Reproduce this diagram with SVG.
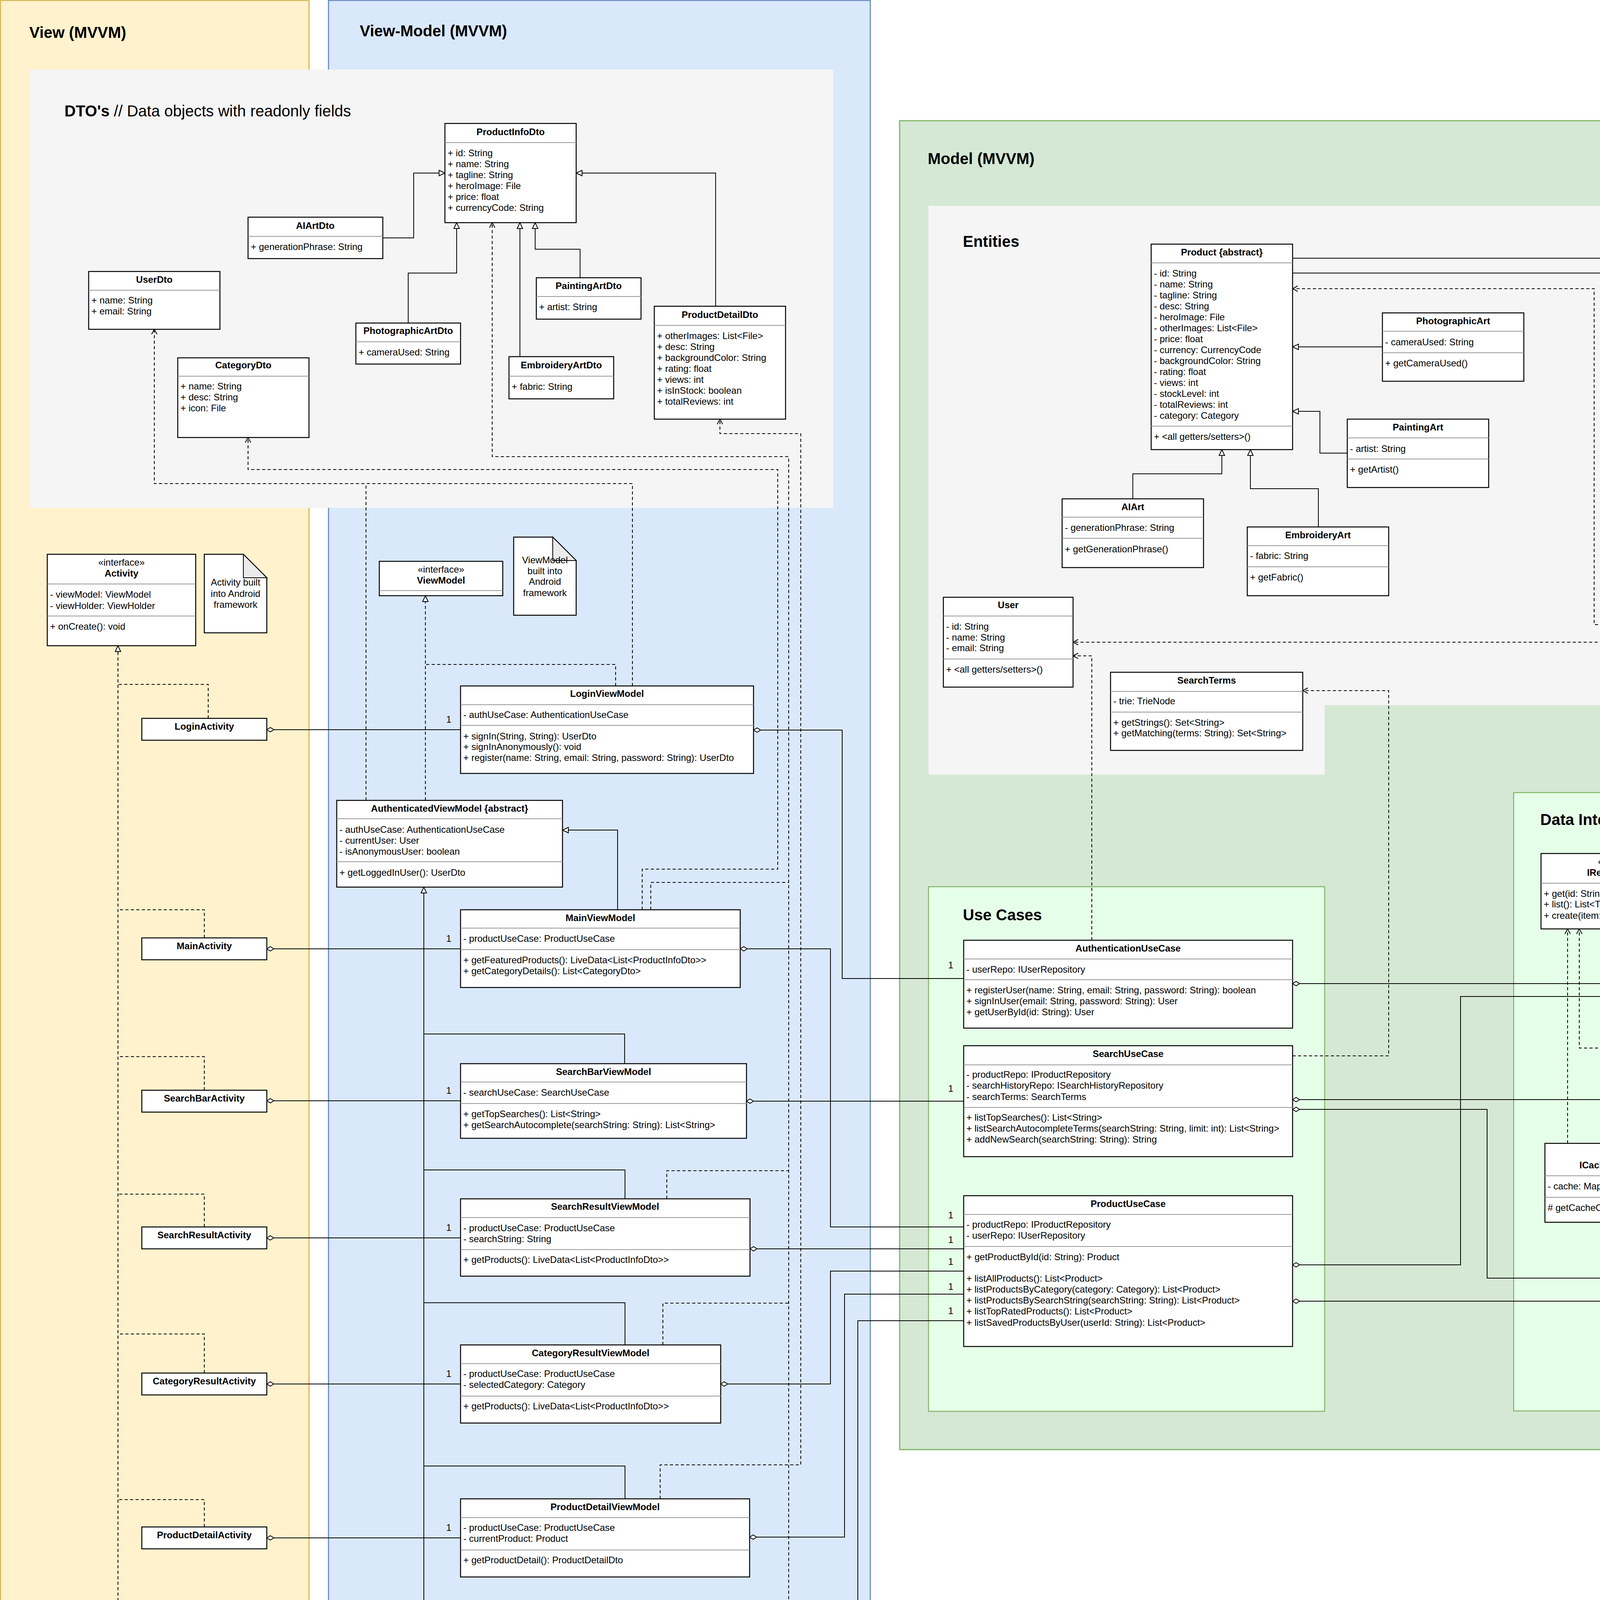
<svg xmlns="http://www.w3.org/2000/svg" width="6754" height="4506" viewBox="0 0 6754 4506">
<style>
text{font-family:"Liberation Sans",Arial,Helvetica,sans-serif;font-size:24px;fill:#000}
.h{font-weight:bold;text-anchor:middle}
.m{text-anchor:middle}
.sec{font-size:40px;font-weight:bold}
.box{fill:#fff;stroke:#000;stroke-width:2.5}
.dv{stroke:#999;stroke-width:2}
.ln{fill:none;stroke:#000;stroke-width:2}
.ds{stroke-dasharray:8 6}
.lbg{font-size:30px;text-anchor:middle;paint-order:stroke;stroke-width:10px}
.lg{stroke:#e6ffe8}
.lp{stroke:#f8cecc}
.note{fill:#fff;stroke:#000;stroke-width:2.5}
.fold{fill:#ebebeb;stroke:#000;stroke-width:2}
</style>
<defs>
<marker id="tri" viewBox="0 0 18 18" markerWidth="18" markerHeight="18" refX="17" refY="9" orient="auto" markerUnits="userSpaceOnUse"><path d="M2,2 L17,9 L2,16 Z" fill="#fff" stroke="#000" stroke-width="2"/></marker>
<marker id="arr" viewBox="0 0 18 18" markerWidth="18" markerHeight="18" refX="16" refY="9" orient="auto" markerUnits="userSpaceOnUse"><path d="M3,2 L16,9 L3,16" fill="none" stroke="#000" stroke-width="2"/></marker>
<marker id="dia" viewBox="0 0 22 14" markerWidth="22" markerHeight="14" refX="1" refY="7" orient="auto" markerUnits="userSpaceOnUse"><path d="M1,7 L10,1.5 L19,7 L10,12.5 Z" fill="#fff" stroke="#000" stroke-width="2"/></marker>
<marker id="fdia" viewBox="0 0 22 14" markerWidth="22" markerHeight="14" refX="20" refY="7" orient="auto" markerUnits="userSpaceOnUse"><path d="M1,7 L10.5,1.5 L20,7 L10.5,12.5 Z" fill="#000" stroke="#000" stroke-width="1.5"/></marker>
</defs>
<rect width="6754" height="4506" fill="#fff"/>
<g id="regions">
<rect x="1" y="1" width="790" height="4496" fill="#fff2cc" stroke="#d6b656" stroke-width="3"/>
<rect x="841" y="1" width="1387" height="4503" fill="#dae8fc" stroke="#6c8ebf" stroke-width="3"/>
<rect x="75" y="178" width="2058" height="1122" fill="#f5f5f5"/>
<rect x="2303" y="309" width="2702" height="3402" fill="#d5e8d4" stroke="#82b366" stroke-width="3"/>
<path d="M2377,527 H4905 V1805 H3391 V1983 H2377 Z" fill="#f5f5f5"/>
<rect x="2377" y="2270" width="1014" height="1343" fill="#e6ffe8" stroke="#82b366" stroke-width="2.5"/>
<rect x="3875" y="2029" width="1027" height="1583" fill="#e6ffe8" stroke="#82b366" stroke-width="2.5"/>
<rect x="5099" y="305" width="1584" height="3333" fill="#f8cecc" stroke="#b85450" stroke-width="3"/>
<rect x="5157" y="517" width="1452" height="999" fill="#f5f5f5"/>
<text class="sec" x="75" y="97">View (MVVM)</text>
<text class="sec" x="921" y="93">View-Model (MVVM)</text>
<text class="sec" x="165" y="298">DTO's<tspan font-weight="normal"> // Data objects with readonly fields</tspan></text>
<text class="sec" x="2375" y="420">Model (MVVM)</text>
<text class="sec" x="2465" y="632">Entities</text>
<text class="sec" x="2465" y="2356">Use Cases</text>
<text class="sec" x="3943" y="2112">Data Interfaces</text>
<text class="sec" x="5168" y="416">Infrastructure</text>
<text class="sec" x="5265" y="622">DBO's</text>
</g>
<g id="connectors">
<path class="ln ds" d="M302,4169 V1653" marker-end="url(#tri)"/>
<path class="ln ds" d="M533,1839 V1752 H302"/>
<path class="ln ds" d="M523,2401 V2329 H302"/>
<path class="ln ds" d="M523,2791 V2705 H302"/>
<path class="ln ds" d="M523,3141 V3057 H302"/>
<path class="ln ds" d="M523,3515 V3415 H302"/>
<path class="ln ds" d="M523,3909 V3839 H302"/>
<path class="ln ds" d="M523,4262 V4169 H302"/>
<path class="ln" d="M683,1868 H1179" marker-start="url(#dia)"/>
<path class="ln" d="M683,2429 H1179" marker-start="url(#dia)"/>
<path class="ln" d="M683,2818 H1179" marker-start="url(#dia)"/>
<path class="ln" d="M683,3169 H1179" marker-start="url(#dia)"/>
<path class="ln" d="M683,3543 H1179" marker-start="url(#dia)"/>
<path class="ln" d="M683,3937 H1179" marker-start="url(#dia)"/>
<path class="ln" d="M683,4289 H1179" marker-start="url(#dia)"/>
<path class="ln ds" d="M1089,2049 V1525" marker-end="url(#tri)"/>
<path class="ln ds" d="M1576,1756 V1701 H1089"/>
<path class="ln" d="M1581,2329 V2125 H1440" marker-end="url(#tri)"/>
<path class="ln" d="M1085,4105 V2271" marker-end="url(#tri)"/>
<path class="ln" d="M1599,2723 V2647 H1085"/>
<path class="ln" d="M1600,3069 V2995 H1085"/>
<path class="ln" d="M1600,3443 V3335 H1085"/>
<path class="ln" d="M1600,3837 V3753 H1085"/>
<path class="ln" d="M1600,4194 V4105 H1085"/>
<path class="ln" d="M980,609 H1059 V443 H1139" marker-end="url(#tri)"/>
<path class="ln" d="M1045,827 V699 H1169 V570" marker-end="url(#tri)"/>
<path class="ln" d="M1331,913 V570" marker-end="url(#tri)"/>
<path class="ln" d="M1485,711 V638 H1370 V570" marker-end="url(#tri)"/>
<path class="ln" d="M1832,784 V443 H1475" marker-end="url(#tri)"/>
<path class="ln ds" d="M1619,1756 V1238 H395 V843" marker-end="url(#arr)"/>
<path class="ln ds" d="M937,2049 V1238"/>
<path class="ln ds" d="M1644,2329 V2225 H1991 V1202 H635 V1120" marker-end="url(#arr)"/>
<path class="ln ds" d="M2019,4108 V1169 H1260 V570" marker-end="url(#arr)"/>
<path class="ln ds" d="M1666,2329 V2259 H2019"/>
<path class="ln ds" d="M1707,3069 V2997 H2019"/>
<path class="ln ds" d="M1697,3443 V3336 H2019"/>
<path class="ln ds" d="M1689,4194 V4108 H2019"/>
<path class="ln ds" d="M1690,3837 V3750 H2050 V1110 H1843 V1073" marker-end="url(#arr)"/>
<path class="ln" d="M1929,1869 H2156 V2505 H2467" marker-start="url(#dia)"/>
<path class="ln" d="M1895,2429 H2126 V3141 H2467" marker-start="url(#dia)"/>
<path class="ln" d="M1911,2819 H2467" marker-start="url(#dia)"/>
<path class="ln" d="M1920,3197 H2467" marker-start="url(#dia)"/>
<path class="ln" d="M1845,3543 H2126 V3254 H2467" marker-start="url(#dia)"/>
<path class="ln" d="M1919,3935 H2162 V3313 H2467" marker-start="url(#dia)"/>
<path class="ln" d="M2021,4288 H2196 V3381 H2467" marker-start="url(#dia)"/>
<path class="ln" d="M3539,888 H3309" marker-end="url(#tri)"/>
<path class="ln" d="M3449,1160 H3379 V1053 H3309" marker-end="url(#tri)"/>
<path class="ln" d="M2900,1277 V1213 H3128 V1151" marker-end="url(#tri)"/>
<path class="ln" d="M3375,1349 V1251 H3201 V1151" marker-end="url(#tri)"/>
<path class="ln" d="M3309,661 H4455 V745" marker-end="url(#arr)"/>
<path class="ln" d="M3309,699 H4237 V1127 H4295" marker-end="url(#arr)"/>
<path class="ln ds" d="M2795,2407 V1679 H2747" marker-end="url(#arr)"/>
<path class="ln ds" d="M3309,2703 H3555 V1768 H3335" marker-end="url(#arr)"/>
<path class="ln ds" d="M4609,2469 V1644 H2747" marker-end="url(#arr)"/>
<path class="ln ds" d="M4833,3219 H4870 V1599 H4081 V739 H3309" marker-end="url(#arr)"/>
<path class="ln" d="M3309,2518 H4173" marker-start="url(#dia)"/>
<path class="ln" d="M3309,3238 H3739 V2551 H4173" marker-start="url(#dia)"/>
<path class="ln" d="M3309,2815 H4173" marker-start="url(#dia)"/>
<path class="ln" d="M3309,2840 H3807 V3272 H4173" marker-start="url(#dia)"/>
<path class="ln" d="M3309,3331 H4173" marker-start="url(#dia)"/>
<path class="ln ds" d="M4485,2469 V2239 H4355" marker-end="url(#tri)"/>
<path class="ln ds" d="M4455,2767 V2683 H4043 V2378" marker-end="url(#arr)"/>
<path class="ln ds" d="M4013,2927 V2378" marker-end="url(#arr)"/>
<path class="ln ds" d="M4489,3177 V3019 H4393" marker-end="url(#tri)"/>
<path class="ln ds" d="M5803,2533 H4717" marker-end="url(#tri)"/>
<path class="ln ds" d="M5803,2819 H4715" marker-end="url(#tri)"/>
<path class="ln ds" d="M5803,3273 H4833" marker-end="url(#tri)"/>
<path class="ln" d="M5665,3119 V1891" marker-end="url(#tri)"/>
<path class="ln" d="M6056,2497 V1981 H5665"/>
<path class="ln" d="M6060,2777 V2705 H5665"/>
<path class="ln" d="M6059,3229 V3119 H5665"/>
<path class="ln ds" d="M6309,2533 H6649 V761 H6469" marker-end="url(#arr)"/>
<path class="ln ds" d="M6317,2819 H6453 V1159" marker-end="url(#arr)"/>
<path class="ln ds" d="M6315,3273 H6539 V1467 H5427 V1419" marker-end="url(#arr)"/>
<path class="ln ds" d="M6515,1085 H6568 V793 H6469" marker-end="url(#arr)"/>
<path class="ln" d="M5499,671 H5365 V803" marker-end="url(#fdia)"/>
<text class="m" x="1149" y="1850">1</text>
<text class="m" x="1149" y="2411">1</text>
<text class="m" x="1149" y="2800">1</text>
<text class="m" x="1149" y="3151">1</text>
<text class="m" x="1149" y="3525">1</text>
<text class="m" x="1149" y="3919">1</text>
<text class="m" x="1149" y="4271">1</text>
<text class="m" x="2434" y="2479">1</text>
<text class="m" x="2434" y="3119">1</text>
<text class="m" x="2434" y="2795">1</text>
<text class="m" x="2434" y="3182">1</text>
<text class="m" x="2434" y="3238">1</text>
<text class="m" x="2434" y="3302">1</text>
<text class="m" x="2434" y="3364">1</text>
<text class="m" x="4141" y="2496">1</text>
<text class="m" x="4141" y="2593">1</text>
<text class="m" x="4149" y="2795">1</text>
<text class="m" x="4149" y="3245">1</text>
<text class="m" x="4149" y="3312">1</text>
<text x="5452" y="655" style="font-size:19px">1...*</text>
<text class="lbg lg" x="4485" y="2432">&lt;User&gt;</text>
<text class="lbg lg" x="4455" y="2748">&lt;String&gt;</text>
<text class="lbg lg" x="4489" y="3148">&lt;Product&gt;</text>
<text class="lbg lp" x="6056" y="2463">&lt;UserDbo&gt;</text>
<text class="lbg lp" x="6060" y="2751">&lt;SearchHistoryDbo&gt;</text>
<text class="lbg lp" x="6059" y="3210">&lt;ProductDbo&gt;</text>
</g>
<g id="ProductInfoDto"><rect class="box" x="1139" y="316" width="336" height="254"/><line class="dv" x1="1139" y1="365" x2="1475" y2="365"/><text class="h" x="1307" y="346">ProductInfoDto</text><text x="1146" y="400">+ id: String</text><text x="1146" y="428">+ name: String</text><text x="1146" y="456">+ tagline: String</text><text x="1146" y="484">+ heroImage: File</text><text x="1146" y="512">+ price: float</text><text x="1146" y="540">+ currencyCode: String</text></g>
<g id="AIArtDto"><rect class="box" x="635" y="556" width="345" height="106"/><line class="dv" x1="635" y1="605" x2="980" y2="605"/><text class="h" x="807" y="586">AIArtDto</text><text x="642" y="640">+ generationPhrase: String</text></g>
<g id="UserDto"><rect class="box" x="227" y="695" width="336" height="148"/><line class="dv" x1="227" y1="743" x2="563" y2="743"/><text class="h" x="395" y="724">UserDto</text><text x="234" y="777">+ name: String</text><text x="234" y="805">+ email: String</text></g>
<g id="CategoryDto"><rect class="box" x="455" y="916" width="336" height="204"/><line class="dv" x1="455" y1="963" x2="791" y2="963"/><text class="h" x="623" y="943">CategoryDto</text><text x="462" y="997">+ name: String</text><text x="462" y="1025">+ desc: String</text><text x="462" y="1053">+ icon: File</text></g>
<g id="PhotographicArtDto"><rect class="box" x="911" y="827" width="268" height="105"/><line class="dv" x1="911" y1="875" x2="1179" y2="875"/><text class="h" x="1045" y="855">PhotographicArtDto</text><text x="918" y="910">+ cameraUsed: String</text></g>
<g id="PaintingArtDto"><rect class="box" x="1373" y="711" width="268" height="106"/><line class="dv" x1="1373" y1="759" x2="1641" y2="759"/><text class="h" x="1507" y="740">PaintingArtDto</text><text x="1380" y="794">+ artist: String</text></g>
<g id="EmbroideryArtDto"><rect class="box" x="1303" y="913" width="268" height="108"/><line class="dv" x1="1303" y1="963" x2="1571" y2="963"/><text class="h" x="1437" y="943">EmbroideryArtDto</text><text x="1310" y="998">+ fabric: String</text></g>
<g id="ProductDetailDto"><rect class="box" x="1675" y="784" width="336" height="289"/><line class="dv" x1="1675" y1="833" x2="2011" y2="833"/><text class="h" x="1843" y="814">ProductDetailDto</text><text x="1682" y="868">+ otherImages: List&lt;File&gt;</text><text x="1682" y="896">+ desc: String</text><text x="1682" y="924">+ backgroundColor: String</text><text x="1682" y="952">+ rating: float</text><text x="1682" y="980">+ views: int</text><text x="1682" y="1008">+ isInStock: boolean</text><text x="1682" y="1036">+ totalReviews: int</text></g>
<g id="Activity"><rect class="box" x="121" y="1419" width="380" height="234"/><text class="m" x="311" y="1448">«interface»</text><text class="h" x="311" y="1476">Activity</text><line class="dv" x1="121" y1="1495" x2="501" y2="1495"/><text x="128" y="1530">- viewModel: ViewModel</text><text x="128" y="1559">- viewHolder: ViewHolder</text><line class="dv" x1="121" y1="1577" x2="501" y2="1577"/><text x="128" y="1612">+ onCreate(): void</text></g>
<g id="ActivityNote"><path class="note" d="M523,1419 H623 L683,1479 V1620 H523 Z"/><path class="fold" d="M623,1419 V1479 H683 Z"/><text class="m" x="603" y="1499">Activity built</text><text class="m" x="603" y="1528">into Android</text><text class="m" x="603" y="1556">framework</text></g>
<g id="LoginActivity"><rect class="box" x="363" y="1839" width="320" height="56"/><text class="h" x="523" y="1868">LoginActivity</text></g>
<g id="MainActivity"><rect class="box" x="363" y="2401" width="320" height="56"/><text class="h" x="523" y="2430">MainActivity</text></g>
<g id="SearchBarActivity"><rect class="box" x="363" y="2791" width="320" height="56"/><text class="h" x="523" y="2820">SearchBarActivity</text></g>
<g id="SearchResultActivity"><rect class="box" x="363" y="3141" width="320" height="56"/><text class="h" x="523" y="3170">SearchResultActivity</text></g>
<g id="CategoryResultActivity"><rect class="box" x="363" y="3515" width="320" height="56"/><text class="h" x="523" y="3544">CategoryResultActivity</text></g>
<g id="ProductDetailActivity"><rect class="box" x="363" y="3909" width="320" height="56"/><text class="h" x="523" y="3938">ProductDetailActivity</text></g>
<g id="SavedProductsActivity"><rect class="box" x="363" y="4262" width="320" height="56"/><text class="h" x="523" y="4291">SavedProductsActivity</text></g>
<g id="ViewModel"><rect class="box" x="971" y="1437" width="316" height="88"/><text class="m" x="1129" y="1466">«interface»</text><text class="h" x="1129" y="1494">ViewModel</text><line class="dv" x1="971" y1="1512" x2="1287" y2="1512"/></g>
<g id="ViewModelNote"><path class="note" d="M1315,1375 H1415 L1475,1435 V1575 H1315 Z"/><path class="fold" d="M1415,1375 V1435 H1475 Z"/><text class="m" x="1395" y="1442">ViewModel</text><text class="m" x="1395" y="1470">built into</text><text class="m" x="1395" y="1497">Android</text><text class="m" x="1395" y="1526">framework</text></g>
<g id="LoginViewModel"><rect class="box" x="1179" y="1756" width="750" height="224"/><text class="h" x="1554" y="1784">LoginViewModel</text><line class="dv" x1="1179" y1="1804" x2="1929" y2="1804"/><text x="1186" y="1838">- authUseCase: AuthenticationUseCase</text><line class="dv" x1="1179" y1="1857" x2="1929" y2="1857"/><text x="1186" y="1893">+ signIn(String, String): UserDto</text><text x="1186" y="1920">+ signInAnonymously(): void</text><text x="1186" y="1948">+ register(name: String, email: String, password: String): UserDto</text></g>
<g id="AuthenticatedViewModel"><rect class="box" x="862" y="2049" width="578" height="222"/><text class="h" x="1151" y="2078">AuthenticatedViewModel {abstract}</text><line class="dv" x1="862" y1="2096" x2="1440" y2="2096"/><text x="869" y="2132">- authUseCase: AuthenticationUseCase</text><text x="869" y="2160">- currentUser: User</text><text x="869" y="2188">- isAnonymousUser: boolean</text><line class="dv" x1="862" y1="2206" x2="1440" y2="2206"/><text x="869" y="2242">+ getLoggedInUser(): UserDto</text></g>
<g id="MainViewModel"><rect class="box" x="1179" y="2329" width="716" height="199"/><text class="h" x="1537" y="2358">MainViewModel</text><line class="dv" x1="1179" y1="2376" x2="1895" y2="2376"/><text x="1186" y="2411">- productUseCase: ProductUseCase</text><line class="dv" x1="1179" y1="2431" x2="1895" y2="2431"/><text x="1186" y="2466">+ getFeaturedProducts(): LiveData&lt;List&lt;ProductInfoDto&gt;&gt;</text><text x="1186" y="2494">+ getCategoryDetails(): List&lt;CategoryDto&gt;</text></g>
<g id="SearchBarViewModel"><rect class="box" x="1179" y="2723" width="732" height="191"/><text class="h" x="1545" y="2752">SearchBarViewModel</text><line class="dv" x1="1179" y1="2770" x2="1911" y2="2770"/><text x="1186" y="2805">- searchUseCase: SearchUseCase</text><line class="dv" x1="1179" y1="2825" x2="1911" y2="2825"/><text x="1186" y="2860">+ getTopSearches(): List&lt;String&gt;</text><text x="1186" y="2888">+ getSearchAutocomplete(searchString: String): List&lt;String&gt;</text></g>
<g id="SearchResultViewModel"><rect class="box" x="1179" y="3069" width="741" height="198"/><text class="h" x="1549" y="3097">SearchResultViewModel</text><line class="dv" x1="1179" y1="3117" x2="1920" y2="3117"/><text x="1186" y="3152">- productUseCase: ProductUseCase</text><text x="1186" y="3180">- searchString: String</text><line class="dv" x1="1179" y1="3199" x2="1920" y2="3199"/><text x="1186" y="3233">+ getProducts(): LiveData&lt;List&lt;ProductInfoDto&gt;&gt;</text></g>
<g id="CategoryResultViewModel"><rect class="box" x="1179" y="3443" width="666" height="200"/><text class="h" x="1512" y="3472">CategoryResultViewModel</text><line class="dv" x1="1179" y1="3491" x2="1845" y2="3491"/><text x="1186" y="3525">- productUseCase: ProductUseCase</text><text x="1186" y="3553">- selectedCategory: Category</text><line class="dv" x1="1179" y1="3574" x2="1845" y2="3574"/><text x="1186" y="3608">+ getProducts(): LiveData&lt;List&lt;ProductInfoDto&gt;&gt;</text></g>
<g id="ProductDetailViewModel"><rect class="box" x="1179" y="3837" width="740" height="200"/><text class="h" x="1549" y="3866">ProductDetailViewModel</text><line class="dv" x1="1179" y1="3885" x2="1919" y2="3885"/><text x="1186" y="3919">- productUseCase: ProductUseCase</text><text x="1186" y="3947">- currentProduct: Product</text><line class="dv" x1="1179" y1="3968" x2="1919" y2="3968"/><text x="1186" y="4002">+ getProductDetail(): ProductDetailDto</text></g>
<g id="SavedProductsViewModel"><rect class="box" x="1179" y="4194" width="842" height="189"/><text class="h" x="1600" y="4224">SavedProductsViewModel</text><line class="dv" x1="1179" y1="4243" x2="2021" y2="4243"/><text x="1186" y="4278">- savedProductsUseCase: ProductUseCase</text><line class="dv" x1="1179" y1="4297" x2="2021" y2="4297"/><text x="1186" y="4331">+ getProducts(): LiveData&lt;List&lt;ProductInfoDto&gt;&gt;</text></g>
<g id="Product"><rect class="box" x="2947" y="625" width="362" height="526"/><text class="h" x="3128" y="654">Product {abstract}</text><line class="dv" x1="2947" y1="673" x2="3309" y2="673"/><text x="2954" y="708">- id: String</text><text x="2954" y="736">- name: String</text><text x="2954" y="764">- tagline: String</text><text x="2954" y="792">- desc: String</text><text x="2954" y="820">- heroImage: File</text><text x="2954" y="848">- otherImages: List&lt;File&gt;</text><text x="2954" y="876">- price: float</text><text x="2954" y="904">- currency: CurrencyCode</text><text x="2954" y="932">- backgroundColor: String</text><text x="2954" y="960">- rating: float</text><text x="2954" y="988">- views: int</text><text x="2954" y="1016">- stockLevel: int</text><text x="2954" y="1044">- totalReviews: int</text><text x="2954" y="1072">- category: Category</text><line class="dv" x1="2947" y1="1091" x2="3309" y2="1091"/><text x="2954" y="1126">+ &lt;all getters/setters&gt;()</text></g>
<g id="PhotographicArt"><rect class="box" x="3539" y="801" width="362" height="175"/><text class="h" x="3720" y="830">PhotographicArt</text><line class="dv" x1="3539" y1="848" x2="3901" y2="848"/><text x="3546" y="884">- cameraUsed: String</text><line class="dv" x1="3539" y1="903" x2="3901" y2="903"/><text x="3546" y="938">+ getCameraUsed()</text></g>
<g id="PaintingArt"><rect class="box" x="3449" y="1073" width="362" height="175"/><text class="h" x="3630" y="1102">PaintingArt</text><line class="dv" x1="3449" y1="1121" x2="3811" y2="1121"/><text x="3456" y="1157">- artist: String</text><line class="dv" x1="3449" y1="1175" x2="3811" y2="1175"/><text x="3456" y="1210">+ getArtist()</text></g>
<g id="AIArt"><rect class="box" x="2719" y="1277" width="362" height="176"/><text class="h" x="2900" y="1306">AIArt</text><line class="dv" x1="2719" y1="1324" x2="3081" y2="1324"/><text x="2726" y="1359">- generationPhrase: String</text><line class="dv" x1="2719" y1="1378" x2="3081" y2="1378"/><text x="2726" y="1414">+ getGenerationPhrase()</text></g>
<g id="EmbroideryArt"><rect class="box" x="3193" y="1349" width="362" height="176"/><text class="h" x="3374" y="1378">EmbroideryArt</text><line class="dv" x1="3193" y1="1397" x2="3555" y2="1397"/><text x="3200" y="1431">- fabric: String</text><line class="dv" x1="3193" y1="1451" x2="3555" y2="1451"/><text x="3200" y="1486">+ getFabric()</text></g>
<g id="User"><rect class="box" x="2415" y="1529" width="332" height="230"/><text class="h" x="2581" y="1557">User</text><line class="dv" x1="2415" y1="1577" x2="2747" y2="1577"/><text x="2422" y="1612">- id: String</text><text x="2422" y="1640">- name: String</text><text x="2422" y="1667">- email: String</text><line class="dv" x1="2415" y1="1687" x2="2747" y2="1687"/><text x="2422" y="1722">+ &lt;all getters/setters&gt;()</text></g>
<g id="SearchTerms"><rect class="box" x="2843" y="1721" width="492" height="200"/><text class="h" x="3089" y="1750">SearchTerms</text><line class="dv" x1="2843" y1="1770" x2="3335" y2="1770"/><text x="2850" y="1803">- trie: TrieNode</text><line class="dv" x1="2843" y1="1823" x2="3335" y2="1823"/><text x="2850" y="1858">+ getStrings(): Set&lt;String&gt;</text><text x="2850" y="1885">+ getMatching(terms: String): Set&lt;String&gt;</text></g>
<g id="CurrencyCode"><rect class="box" x="4295" y="745" width="321" height="194"/><text class="m" x="4455" y="774">«enumeration»</text><text class="h" x="4455" y="803">CurrencyCode</text><line class="dv" x1="4295" y1="821" x2="4616" y2="821"/><text x="4302" y="855">NZD</text><text x="4302" y="884">AUD</text><text x="4302" y="912">USD</text></g>
<g id="Category"><rect class="box" x="4295" y="1014" width="321" height="227"/><text class="m" x="4455" y="1045">«enumeration»</text><text class="h" x="4455" y="1072">Category</text><line class="dv" x1="4295" y1="1091" x2="4616" y2="1091"/><text x="4302" y="1125">PHOTOGRAPHIC</text><text x="4302" y="1154">AI</text><text x="4302" y="1181">EMBROIDERY</text><text x="4302" y="1209">PAINTING</text></g>
<g id="AuthenticationUseCase"><rect class="box" x="2467" y="2407" width="842" height="225"/><text class="h" x="2888" y="2436">AuthenticationUseCase</text><line class="dv" x1="2467" y1="2455" x2="3309" y2="2455"/><text x="2474" y="2490">- userRepo: IUserRepository</text><line class="dv" x1="2467" y1="2508" x2="3309" y2="2508"/><text x="2474" y="2543">+ registerUser(name: String, email: String, password: String): boolean</text><text x="2474" y="2571">+ signInUser(email: String, password: String): User</text><text x="2474" y="2599">+ getUserById(id: String): User</text></g>
<g id="SearchUseCase"><rect class="box" x="2467" y="2677" width="842" height="284"/><text class="h" x="2888" y="2706">SearchUseCase</text><line class="dv" x1="2467" y1="2726" x2="3309" y2="2726"/><text x="2474" y="2759">- productRepo: IProductRepository</text><text x="2474" y="2787">- searchHistoryRepo: ISearchHistoryRepository</text><text x="2474" y="2816">- searchTerms: SearchTerms</text><line class="dv" x1="2467" y1="2835" x2="3309" y2="2835"/><text x="2474" y="2869">+ listTopSearches(): List&lt;String&gt;</text><text x="2474" y="2897">+ listSearchAutocompleteTerms(searchString: String, limit: int): List&lt;String&gt;</text><text x="2474" y="2925">+ addNewSearch(searchString: String): String</text></g>
<g id="ProductUseCase"><rect class="box" x="2467" y="3061" width="842" height="386"/><text class="h" x="2888" y="3090">ProductUseCase</text><line class="dv" x1="2467" y1="3109" x2="3309" y2="3109"/><text x="2474" y="3143">- productRepo: IProductRepository</text><text x="2474" y="3171">- userRepo: IUserRepository</text><line class="dv" x1="2467" y1="3191" x2="3309" y2="3191"/><text x="2474" y="3226">+ getProductById(id: String): Product</text><text x="2474" y="3281">+ listAllProducts(): List&lt;Product&gt;</text><text x="2474" y="3309">+ listProductsByCategory(category: Category): List&lt;Product&gt;</text><text x="2474" y="3337">+ listProductsBySearchString(searchString: String): List&lt;Product&gt;</text><text x="2474" y="3365">+ listTopRatedProducts(): List&lt;Product&gt;</text><text x="2474" y="3394">+ listSavedProductsByUser(userId: String): List&lt;Product&gt;</text></g>
<g id="IRepository"><rect class="box" x="3945" y="2185" width="410" height="193"/><text class="m" x="4150" y="2214">«interface»</text><text class="h" x="4150" y="2242">IRepository&lt;T&gt;</text><line class="dv" x1="3945" y1="2261" x2="4355" y2="2261"/><text x="3952" y="2296">+ get(id: String): T</text><text x="3952" y="2323">+ list(): List&lt;T&gt;</text><text x="3952" y="2352">+ create(item: T): T</text></g>
<g id="IUserRepository"><rect class="box" x="4173" y="2469" width="544" height="140"/><text class="m" x="4445" y="2498">«interface»</text><text class="h" x="4445" y="2526">IUserRepository</text><line class="dv" x1="4173" y1="2545" x2="4717" y2="2545"/><text x="4180" y="2580">+ getByEmail(email: String): User</text></g>
<g id="ISearchHistoryRepository"><rect class="box" x="4173" y="2767" width="542" height="104"/><text class="m" x="4444" y="2796">«interface»</text><text class="h" x="4444" y="2823">ISearchHistoryRepository</text></g>
<g id="ICachedRepository"><rect class="box" x="3955" y="2927" width="438" height="202"/><text class="m" x="4174" y="2957">«interface»</text><text class="h" x="4174" y="2991">ICachedRepository&lt;T&gt;</text><line class="dv" x1="3955" y1="3010" x2="4393" y2="3010"/><text x="3962" y="3045">- cache: Map&lt;String, T&gt;</text><line class="dv" x1="3955" y1="3065" x2="4393" y2="3065"/><text x="3962" y="3100"># getCacheOrNull(key: String): T</text></g>
<g id="IProductRepository"><rect class="box" x="4173" y="3177" width="660" height="189"/><text class="m" x="4503" y="3206">«interface»</text><text class="h" x="4503" y="3234">IProductRepository&lt;Product&gt;</text><line class="dv" x1="4173" y1="3252" x2="4833" y2="3252"/><text x="4180" y="3288">+ listSortByNameMatch(nameMatch: string): List&lt;Product&gt;</text><text x="4180" y="3317">+ listSortByRating(limit: int): List&lt;Product&gt;</text><text x="4180" y="3345">+ listByCategory(category: Category): List&lt;Product&gt;</text></g>
<g id="ImageDbo"><rect class="box" x="5499" y="586" width="312" height="170"/><text class="h" x="5655" y="616">ImageDbo</text><line class="dv" x1="5499" y1="635" x2="5811" y2="635"/><text x="5506" y="670">+ object: String</text><text x="5506" y="698">+ caption: String</text><text x="5506" y="726">+ credit: String</text></g>
<g id="ProductDbo"><rect class="box" x="5229" y="803" width="396" height="616"/><text class="h" x="5427" y="831">ProductDbo</text><line class="dv" x1="5229" y1="850" x2="5625" y2="850"/><text x="5236" y="886">+ id: String</text><text x="5236" y="914">+ name: String</text><text x="5236" y="942">+ tagline: String</text><text x="5236" y="970">+ desc: String</text><text x="5236" y="998">+ heroImage: ImageDbo</text><text x="5236" y="1026">+ otherImages: List&lt;ImageDbo&gt;</text><text x="5236" y="1054">+ price: float</text><text x="5236" y="1082">+ currency: CurrencyCode</text><text x="5236" y="1110">+ backgroundColor: String</text><text x="5236" y="1138">+ rating: float</text><text x="5236" y="1166">+ views: int</text><text x="5236" y="1194">+ stockLevel: int</text><text x="5236" y="1222">+ totalReviews: int</text><text x="5236" y="1250">+ category: String</text><text x="5236" y="1306">+ photographic_camera: String</text><text x="5236" y="1334">+ painting_artist: String</text><text x="5236" y="1362">+ ai_generationPhrase: String</text><text x="5236" y="1390">+ embroidery_fabric: String</text></g>
<g id="UserDbo"><rect class="box" x="6127" y="696" width="342" height="193"/><text class="h" x="6298" y="724">UserDbo</text><line class="dv" x1="6127" y1="743" x2="6469" y2="743"/><text x="6134" y="778">+ id: String</text><text x="6134" y="806">+ name: String</text><text x="6134" y="834">+ email: String</text></g>
<g id="SearchHistoryDbo"><rect class="box" x="6127" y="981" width="388" height="178"/><text class="h" x="6321" y="1009">SearchHistoryDbo</text><line class="dv" x1="6127" y1="1028" x2="6515" y2="1028"/><text x="6134" y="1063">+ id: String</text><text x="6134" y="1092">+ userId: String</text><text x="6134" y="1120">+ searchTerm: String</text></g>
<g id="FirestoreRepository"><rect class="box" x="5405" y="1671" width="745" height="220"/><text class="h" x="5777" y="1700">FirestoreRepository&lt;T: Dbo&gt; {abstract}</text><line class="dv" x1="5405" y1="1719" x2="6150" y2="1719"/><text x="5412" y="1753">- collection: FirestoreCollection&lt;T&gt;</text><text x="5412" y="1782">- firestoreService: FirebaseFirestore</text><line class="dv" x1="5405" y1="1800" x2="6150" y2="1800"/><text x="5412" y="1835"># getCollection(): Collection&lt;T&gt;</text><text x="5412" y="1864"># getCollection&lt;T&gt;(collectionName: string): Collection&lt;T&gt;</text></g>
<g id="UserRepository"><rect class="box" x="5803" y="2497" width="506" height="72"/><text class="h" x="6056" y="2526">UserRepository</text></g>
<g id="SearchHistoryRepository"><rect class="box" x="5803" y="2777" width="514" height="84"/><text class="h" x="6060" y="2806">SearchHistoryRepository</text></g>
<g id="ProductRepository"><rect class="box" x="5803" y="3229" width="512" height="88"/><text class="h" x="6059" y="3258">ProductRepository</text></g>
<g id="title">
<text x="6660" y="4160" style="font-size:200px;font-weight:bold;text-anchor:end">T17 System Design</text>
<text x="6662" y="4400" style="font-size:160px;text-anchor:end">UML Class Diagram</text>
</g>
</svg>
